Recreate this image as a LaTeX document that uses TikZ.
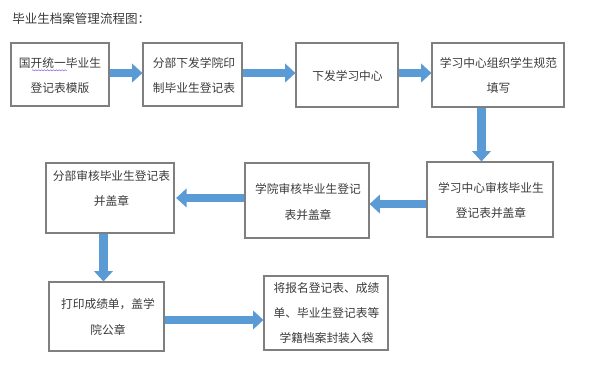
\documentclass[tikz,border=0pt]{standalone}
\usepackage{fontspec}
\setmainfont{Noto Sans CJK SC}
\usetikzlibrary{arrows.meta,decorations.pathmorphing}
\definecolor{boxline}{HTML}{7F7F7F}
\definecolor{flowblue}{HTML}{5B9BD5}
\definecolor{txt}{HTML}{3A3A3A}
\tikzset{
  box/.style={draw=boxline, line width=0.8pt, rectangle, inner sep=0pt},
  label/.style={text=txt, font=\fontsize{8.8pt}{18.9pt}\selectfont, align=center, inner sep=0pt},
  flow/.style={draw=flowblue, line width=6.4pt, -{Triangle[width=13.8pt,length=7.8pt]}, shorten <=0.5pt},
  squig/.style={draw=blue!45!violet!60, line width=0.4pt, decorate, decoration={snake, amplitude=0.45pt, segment length=2.2pt}}
}
\begin{document}
\begin{tikzpicture}[x=0.75pt,y=-0.75pt]
\useasboundingbox (0,0) rectangle (600,374);
\node[text=txt, font=\fontsize{9.4pt}{11pt}\selectfont, anchor=west, inner sep=0pt] (title) at (12,19) {毕业生档案管理流程图：};
% boxes
\node[box, minimum width=73.5pt, minimum height=47.25pt] (b1) at (60,74.5) {};
\node[box, minimum width=74.25pt, minimum height=47.25pt] (b2) at (192.5,74.5) {};
\node[box, minimum width=76.5pt, minimum height=48pt] (b3) at (347,75) {};
\node[box, minimum width=99pt, minimum height=48pt] (b4) at (498,75) {};
\node[box, minimum width=94.5pt, minimum height=56.25pt] (b5) at (490,199.5) {};
\node[box, minimum width=93pt, minimum height=56.25pt] (b6) at (307,200.5) {};
\node[box, minimum width=96pt, minimum height=52.5pt] (b7) at (110,198) {};
\node[box, minimum width=86.25pt, minimum height=51.75pt] (b8) at (106.5,316.5) {};
\node[box, minimum width=93pt, minimum height=55.5pt] (b9) at (326,313) {};
% texts
\node[label] (t1) at (60,75.5) {国开统一毕业生\\登记表模版};
\node[label] (t2) at (194,75.5) {分部下发学院印\\制毕业生登记表};
\node[label] (t3) at (347.5,75.7) {下发学习中心};
\node[label] (t4) at (498.5,75.5) {学习中心组织学生规范\\填写};
\node[label] (t5) at (491,200.5) {学习中心审核毕业生\\登记表并盖章};
\node[label] (t6) at (308,202) {学院审核毕业生登记\\表并盖章};
\node[label] (t7) at (111.5,188.5) {分部审核毕业生登记表\\并盖章};
\node[label] (t8) at (108,317) {打印成绩单，盖学\\院公章};
\node[label] (t9) at (326.5,313) {将报名登记表、成绩\\单、毕业生登记表等\\学籍档案封装入袋};
% spell-check squiggle
\coordinate (sq1) at (32,70.3);
\coordinate (sq2) at (67,70.3);
\draw[squig] (sq1) -- (sq2);
% arrows
\draw[flow] ([yshift=1.1pt]b1.east) -- ([yshift=1.1pt]b1.east -| b2.west);
\draw[flow] ([yshift=1.1pt]b2.east) -- ([yshift=1.1pt]b2.east -| b3.west);
\draw[flow] ([yshift=1.5pt]b3.east) -- ([yshift=1.5pt]b3.east -| b4.west);
\draw[flow] ([xshift=-12.4pt]b4.south) -- ([xshift=-12.4pt]b4.south |- b5.north);
\draw[flow] ([yshift=-3.4pt]b5.west) -- ([yshift=-3.4pt]b5.west -| b6.east);
\draw[flow, shorten >=1.2pt] ([yshift=1.9pt]b6.west) -- ([yshift=1.9pt]b6.west -| b7.east);
\draw[flow] ([xshift=-4.9pt]b7.south) -- ([xshift=-4.9pt]b7.south |- b8.north);
\draw[flow] ([yshift=-2.6pt]b8.east) -- ([yshift=-2.6pt]b8.east -| b9.west);
\end{tikzpicture}
\end{document}
